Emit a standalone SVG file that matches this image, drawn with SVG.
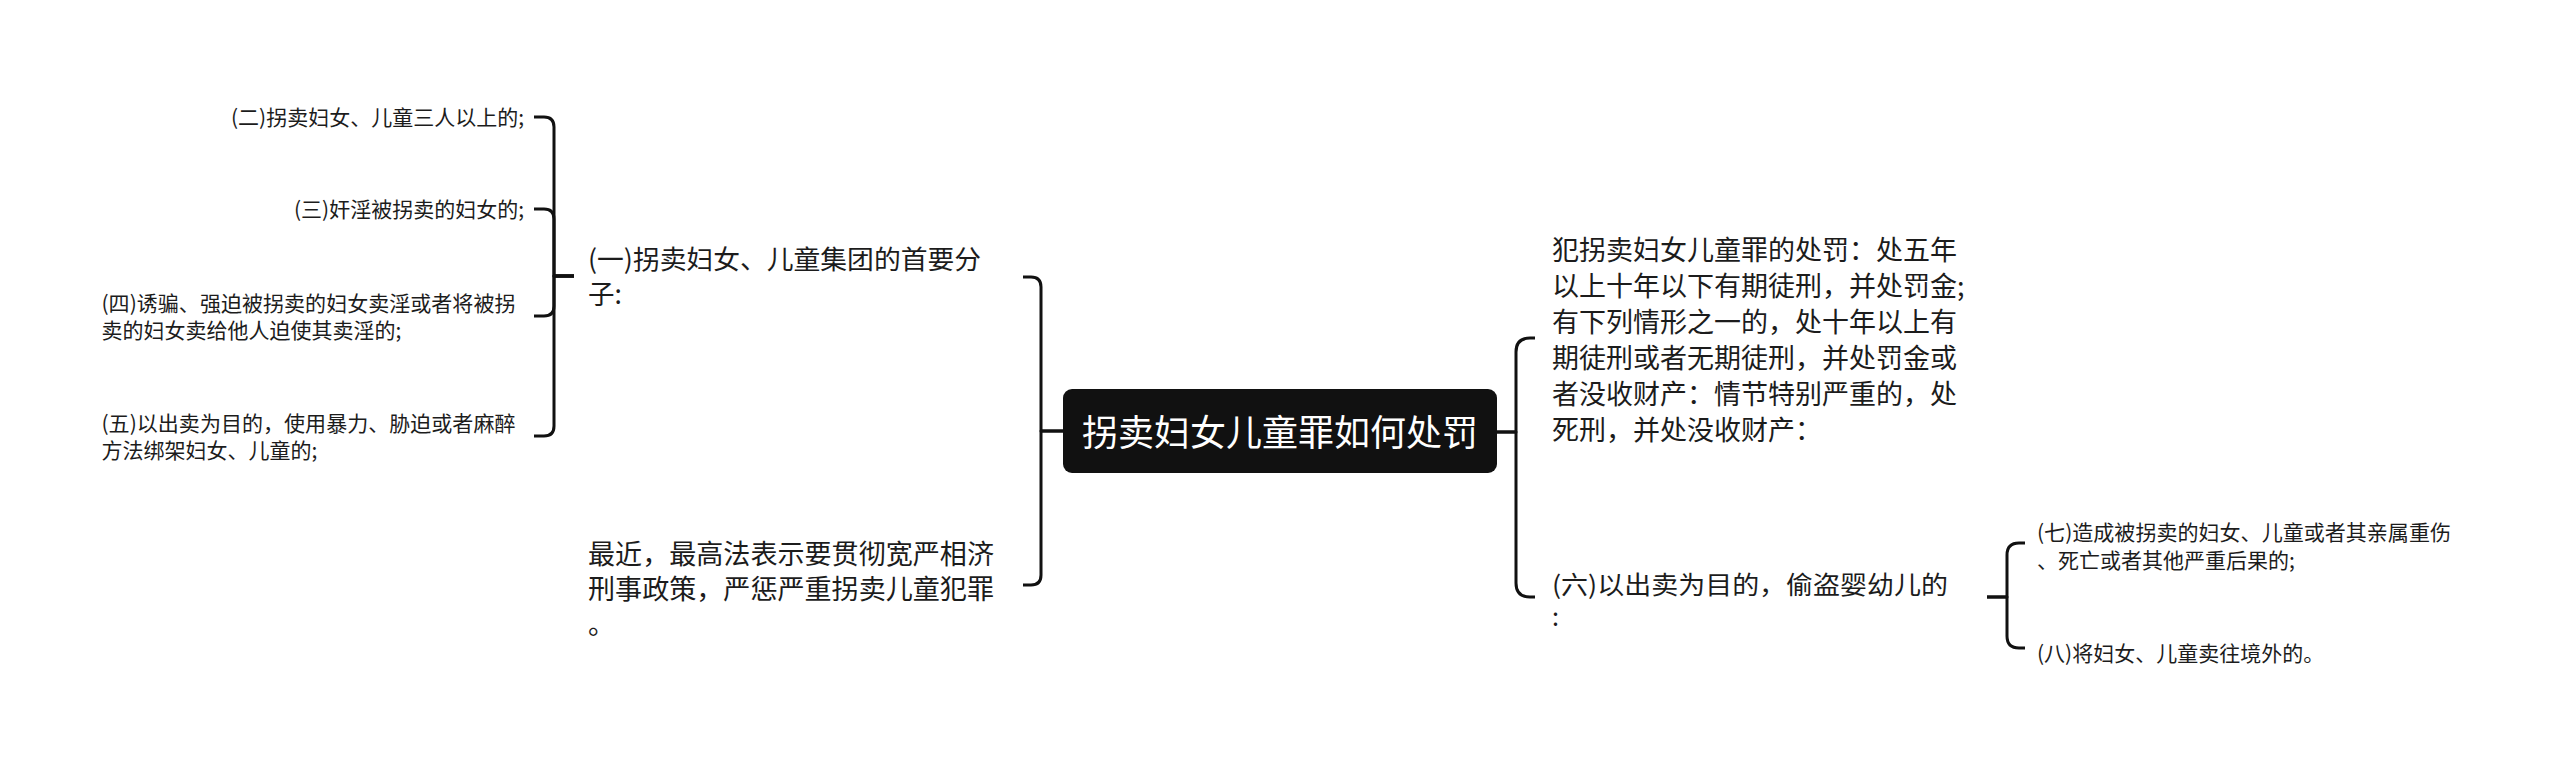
<svg xmlns="http://www.w3.org/2000/svg" width="2560" height="765" viewBox="0 0 2560 765">
<style>
.bg{fill:#ffffff}
.c{fill:none;stroke:#111111;stroke-width:3;stroke-linecap:butt;stroke-linejoin:round}
text{font-family:"Noto Sans CJK SC","Noto Sans",sans-serif;fill:#1c1c1c}
.s{font-size:21px}
.m{font-size:27px}
.root{font-size:36px;fill:#ffffff}
</style>
<rect class="bg" x="0" y="0" width="2560" height="765"/>
<g id="connectors">
  <path class="c" d="M1063,431 H1041 V287 Q1041,277 1031,277 H1023"/>
  <path class="c" d="M1063,431 H1041 V575 Q1041,585 1031,585 H1023"/>
  <path class="c" d="M1497,432 H1516 V352 Q1516,338 1530,338 H1535"/>
  <path class="c" d="M1497,432 H1516 V583 Q1516,597 1530,597 H1535"/>
  <path class="c" d="M574,276 H554 V127 Q554,117 544,117 H534"/>
  <path class="c" d="M574,276 H554 V219 Q554,209 544,209 H534"/>
  <path class="c" d="M574,276 H554 V306 Q554,316 544,316 H534"/>
  <path class="c" d="M574,276 H554 V426 Q554,436 544,436 H534"/>
  <path class="c" d="M1987,597 H2007 V555 Q2007,543 2019,543 H2025"/>
  <path class="c" d="M1987,597 H2007 V636 Q2007,648 2019,648 H2025"/>
</g>
<g id="root">
  <rect x="1063" y="389" width="434" height="84" rx="9" ry="9" fill="#111111"/>
  <text class="root" x="1280" y="446" text-anchor="middle" textLength="396" lengthAdjust="spacingAndGlyphs">拐卖妇女儿童罪如何处罚</text>
</g>
<g id="n1">
  <text style="font-size:26.5px"><tspan x="588" y="269" textLength="393" lengthAdjust="spacingAndGlyphs">(一)拐卖妇女、儿童集团的首要分</tspan><tspan x="588" y="304">子:</tspan></text>
</g>
<g id="n2">
  <text class="s" x="524" y="124.6" text-anchor="end" textLength="293" lengthAdjust="spacingAndGlyphs">(二)拐卖妇女、儿童三人以上的;</text>
</g>
<g id="n3">
  <text class="s" x="524" y="216.6" text-anchor="end">(三)奸淫被拐卖的妇女的;</text>
</g>
<g id="n4">
  <text class="s"><tspan x="101.5" y="311" textLength="414" lengthAdjust="spacingAndGlyphs">(四)诱骗、强迫被拐卖的妇女卖淫或者将被拐</tspan><tspan x="101.5" y="338">卖的妇女卖给他人迫使其卖淫的;</tspan></text>
</g>
<g id="n5">
  <text class="s"><tspan x="101.5" y="431" textLength="414" lengthAdjust="spacingAndGlyphs">(五)以出卖为目的，使用暴力、胁迫或者麻醉</tspan><tspan x="101.5" y="458">方法绑架妇女、儿童的;</tspan></text>
</g>
<g id="n_recent">
  <text class="m"><tspan x="588" y="564" textLength="406" lengthAdjust="spacingAndGlyphs">最近，最高法表示要贯彻宽严相济</tspan><tspan x="588" y="599" textLength="406" lengthAdjust="spacingAndGlyphs">刑事政策，严惩严重拐卖儿童犯罪</tspan><tspan x="588" y="634">。</tspan></text>
</g>
<g id="n_penalty">
  <text class="m"><tspan x="1552" y="260" textLength="405" lengthAdjust="spacingAndGlyphs">犯拐卖妇女儿童罪的处罚：处五年</tspan><tspan x="1552" y="296">以上十年以下有期徒刑，并处罚金;</tspan><tspan x="1552" y="332" textLength="405" lengthAdjust="spacingAndGlyphs">有下列情形之一的，处十年以上有</tspan><tspan x="1552" y="368" textLength="405" lengthAdjust="spacingAndGlyphs">期徒刑或者无期徒刑，并处罚金或</tspan><tspan x="1552" y="404" textLength="405" lengthAdjust="spacingAndGlyphs">者没收财产：情节特别严重的，处</tspan><tspan x="1552" y="440">死刑，并处没收财产：</tspan></text>
</g>
<g id="n6">
  <text style="font-size:25.2px"><tspan x="1552" y="594" textLength="396" lengthAdjust="spacingAndGlyphs">(六)以出卖为目的，偷盗婴幼儿的</tspan><tspan x="1552" y="626">:</tspan></text>
</g>
<g id="n7">
  <text class="s"><tspan x="2037" y="539.6" textLength="414" lengthAdjust="spacingAndGlyphs">(七)造成被拐卖的妇女、儿童或者其亲属重伤</tspan><tspan x="2037" y="567.6">、死亡或者其他严重后果的;</tspan></text>
</g>
<g id="n8">
  <text class="s" x="2037" y="660.6">(八)将妇女、儿童卖往境外的。</text>
</g>
</svg>
